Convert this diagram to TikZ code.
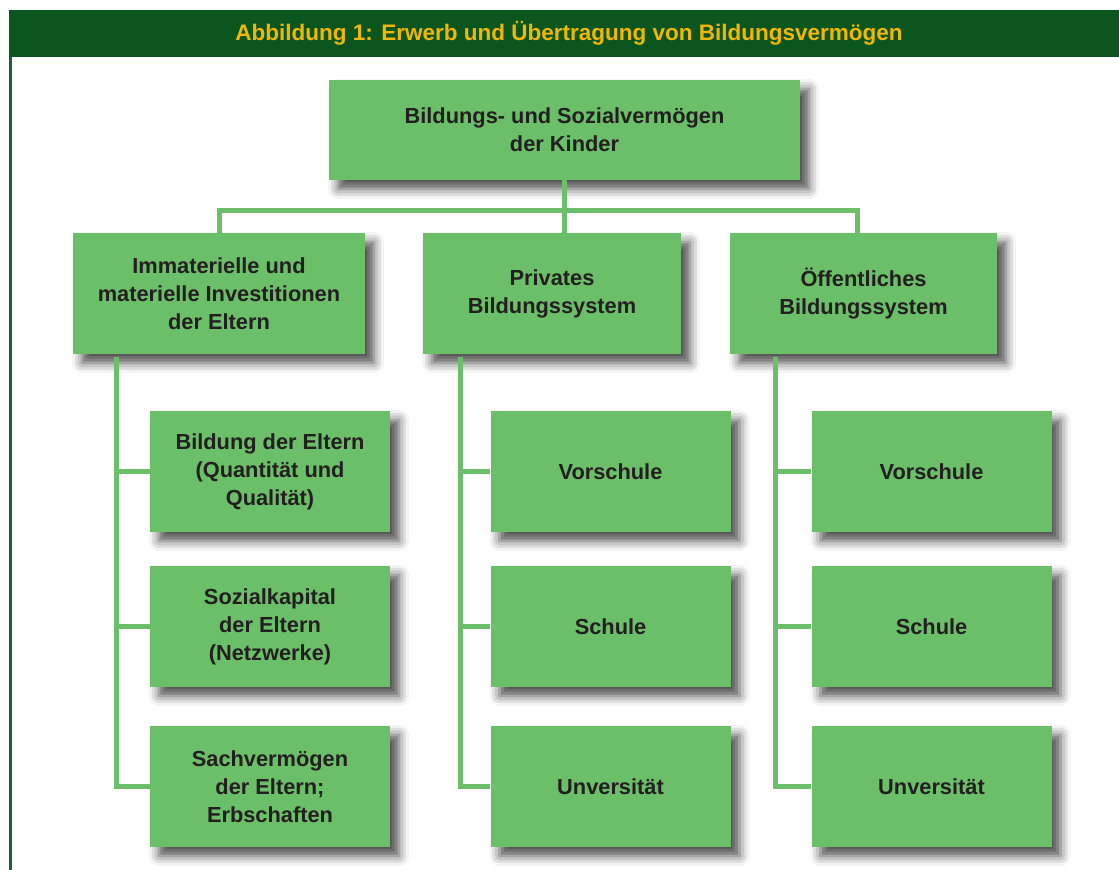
\documentclass[tikz,border=0pt]{standalone}
\usepackage{fontspec}
\setmainfont{Liberation Sans}
\usetikzlibrary{shadows.blur}
\definecolor{headgreen}{HTML}{0A561E}
\definecolor{edgegreen}{HTML}{1F5E2E}
\definecolor{boxgreen}{HTML}{6BBF68}
\definecolor{titleyellow}{HTML}{F2B705}
\definecolor{boxtext}{HTML}{231F20}

\begin{document}
\begin{tikzpicture}[x=0.5pt,y=-0.5pt,
  box/.style n args={2}{rectangle,fill=boxgreen,minimum width=#1,minimum height=#2,inner sep=0pt,align=center,text=boxtext,font=\fontsize{10.9}{14}\selectfont\bfseries,blur shadow={shadow xshift=4.5pt,shadow yshift=-4.5pt,shadow blur radius=5pt,shadow opacity=70}},
  kid/.style={box={120pt}{60.5pt}},
  conn/.style={draw=boxgreen,line width=2.5pt}]
\useasboundingbox (0,0) rectangle (1119,870);
% header and frame
\fill[headgreen] (9,10) rectangle (1119,57);
\node[text=titleyellow,font=\fontsize{11.25}{13}\selectfont\bfseries] (title) at (569,33) {Abbildung 1: Erwerb und Übertragung von Bildungsvermögen};
\draw[edgegreen,line width=1.5pt] (10.5,57) -- (10.5,870);
% boxes
\node[box={235.5pt}{50pt}] (kinder) at (564.5,130) {Bildungs- und Sozialvermögen\\der Kinder};
\node[box={146pt}{60.5pt}] (inv) at (219,293.5) {Immaterielle und\\materielle Investitionen\\der Eltern};
\node[box={129pt}{60.5pt}] (priv) at (552,293.5) {Privates\\Bildungssystem};
\node[box={133.5pt}{60.5pt}] (pub) at (863.5,293.5) {Öffentliches\\Bildungssystem};
\node[kid] (inv1) at (270,471.5) {Bildung der Eltern\\(Quantität und\\Qualität)};
\node[kid] (inv2) at (270,626.5) {Sozialkapital\\der Eltern\\(Netzwerke)};
\node[kid] (inv3) at (270,786.5) {Sachvermögen\\der Eltern;\\Erbschaften};
\foreach \p/\x in {priv/610.5,pub/931.5} {
  \node[kid] (\p1) at (\x,471.5) {Vorschule};
  \node[kid] (\p2) at (\x,626.5) {Schule};
  \node[kid] (\p3) at (\x,786.5) {Unversität};
}
% connectors
\coordinate (bus) at (564.5,211);
\draw[conn] (kinder.south) -- (kinder.south |- priv.north);
\draw[conn] (inv.north) |- (bus) -| ([xshift=-3pt]pub.north);
\foreach \p/\dx in {inv/22pt,priv/19pt,pub/23pt} {
  \coordinate (\p bar) at ([xshift=\dx,yshift=-1.5pt]\p.south west);
  \draw[conn] (\p bar) |- (\p3.west);
  \foreach \i in {1,2}
    \draw[conn] (\p bar |- \p\i.west) -- (\p\i.west);
}
\end{tikzpicture}
\end{document}
